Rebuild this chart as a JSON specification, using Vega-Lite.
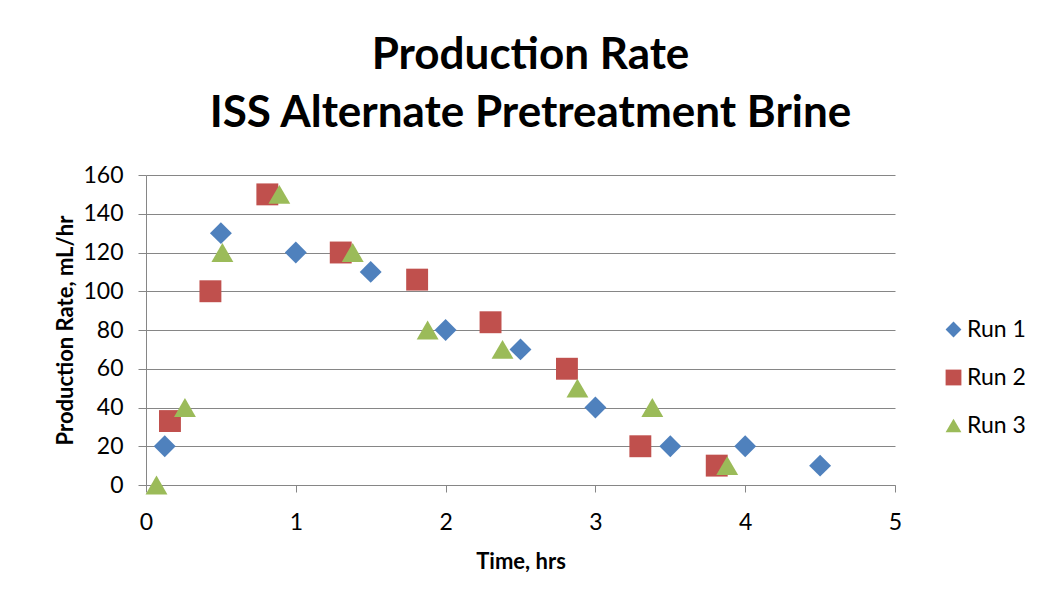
{
  "$schema": "https://vega.github.io/schema/vega-lite/v6.json",
  "autosize": {"type": "none"},
  "width": 749,
  "height": 310,
  "padding": {"left": 146, "top": 175, "right": 148, "bottom": 120},
  "background": "white",
  "config": {
    "font": "Lato",
    "view": {"stroke": null},
    "axis": {
      "labelFont": "Lato",
      "labelFontSize": 23,
      "labelColor": "#000000",
      "titleFont": "Lato",
      "titleFontSize": 22,
      "titleFontWeight": "bold",
      "titleColor": "#000000",
      "domainColor": "#868686",
      "tickColor": "#868686",
      "gridColor": "#868686",
      "gridWidth": 1,
      "domainWidth": 1,
      "tickWidth": 1
    }
  },
  "title": {
    "text": ["Production Rate", "ISS Alternate Pretreatment Brine"],
    "font": "Lato",
    "fontSize": 44,
    "fontWeight": "bold",
    "color": "#000000",
    "lineHeight": 58,
    "anchor": "middle",
    "dx": 10,
    "offset": 28
  },
  "data": {
    "values": [
      {"series": "Run 1", "time": 0.125, "rate": 20},
      {"series": "Run 1", "time": 0.5, "rate": 130},
      {"series": "Run 1", "time": 1.0, "rate": 120},
      {"series": "Run 1", "time": 1.5, "rate": 110},
      {"series": "Run 1", "time": 2.0, "rate": 80},
      {"series": "Run 1", "time": 2.5, "rate": 70},
      {"series": "Run 1", "time": 3.0, "rate": 40},
      {"series": "Run 1", "time": 3.5, "rate": 20},
      {"series": "Run 1", "time": 4.0, "rate": 20},
      {"series": "Run 1", "time": 4.5, "rate": 10},
      {"series": "Run 2", "time": 0.16, "rate": 33},
      {"series": "Run 2", "time": 0.43, "rate": 100},
      {"series": "Run 2", "time": 0.81, "rate": 150},
      {"series": "Run 2", "time": 1.3, "rate": 120},
      {"series": "Run 2", "time": 1.81, "rate": 106},
      {"series": "Run 2", "time": 2.3, "rate": 84},
      {"series": "Run 2", "time": 2.81, "rate": 60},
      {"series": "Run 2", "time": 3.3, "rate": 20},
      {"series": "Run 2", "time": 3.81, "rate": 10},
      {"series": "Run 3", "time": 0.07, "rate": 0},
      {"series": "Run 3", "time": 0.26, "rate": 40},
      {"series": "Run 3", "time": 0.51, "rate": 120},
      {"series": "Run 3", "time": 0.89, "rate": 150},
      {"series": "Run 3", "time": 1.38, "rate": 120},
      {"series": "Run 3", "time": 1.88, "rate": 80},
      {"series": "Run 3", "time": 2.38, "rate": 70},
      {"series": "Run 3", "time": 2.88, "rate": 50},
      {"series": "Run 3", "time": 3.38, "rate": 40},
      {"series": "Run 3", "time": 3.88, "rate": 10}
    ]
  },
  "mark": {"type": "point", "filled": true, "opacity": 1, "size": 480},
  "encoding": {
    "x": {
      "field": "time",
      "type": "quantitative",
      "scale": {"domain": [0, 5], "nice": false, "zero": true},
      "axis": {
        "title": "Time, hrs",
        "values": [0, 1, 2, 3, 4, 5],
        "grid": false,
        "tickSize": 7,
        "labelPadding": 19,
        "titlePadding": 17,
        "labelFlush": false
      }
    },
    "y": {
      "field": "rate",
      "type": "quantitative",
      "scale": {"domain": [0, 160], "nice": false},
      "axis": {
        "title": "Production Rate, mL/hr",
        "values": [0, 20, 40, 60, 80, 100, 120, 140, 160],
        "grid": true,
        "tickSize": 8,
        "labelPadding": 15,
        "titlePadding": 5,
        "labelFlush": false
      }
    },
    "color": {
      "field": "series",
      "type": "nominal",
      "scale": {"domain": ["Run 1", "Run 2", "Run 3"], "range": ["#4F81BD", "#C0504D", "#9BBB59"]},
      "legend": {
        "title": null,
        "orient": "none",
        "legendX": 796,
        "legendY": 143,
        "symbolSize": 250,
        "labelFont": "Lato",
        "labelFontSize": 23,
        "labelColor": "#000000",
        "labelOffset": 2,
        "rowPadding": 24,
        "symbolOpacity": 1
      }
    },
    "shape": {
      "field": "series",
      "type": "nominal",
      "scale": {"domain": ["Run 1", "Run 2", "Run 3"], "range": ["diamond", "square", "triangle-up"]}
    }
  }
}
